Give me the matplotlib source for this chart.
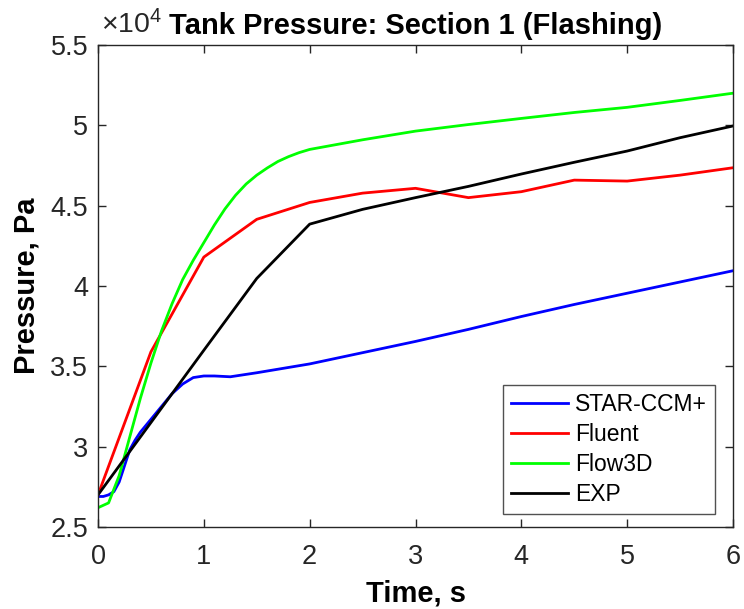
import numpy as np
import matplotlib
matplotlib.use("Agg")
import matplotlib.pyplot as plt

plt.rcParams['font.family'] = ['Liberation Sans', 'DejaVu Sans']
plt.rcParams['mathtext.fontset'] = 'custom'
plt.rcParams['mathtext.rm'] = 'Liberation Sans'
plt.rcParams['mathtext.it'] = 'Liberation Sans:italic'
plt.rcParams['mathtext.bf'] = 'Liberation Sans:bold'

# Tank pressure in units of 1e4 Pa
star_t = [0, 0.05, 0.1, 0.15, 0.2, 0.25, 0.3, 0.35, 0.4, 0.5, 0.6, 0.7, 0.8, 0.9,
          1.0, 1.1, 1.25, 1.5, 2.0, 2.5, 3.0, 3.5, 4.0, 4.5, 5.0, 5.5, 6.0]
star_p = [2.69, 2.69, 2.70, 2.72, 2.78, 2.88, 2.98, 3.04, 3.09, 3.17, 3.25, 3.33,
          3.39, 3.43, 3.44, 3.44, 3.435, 3.46, 3.515, 3.585, 3.655, 3.73, 3.81,
          3.885, 3.955, 4.025, 4.095]

fluent_t = [0, 0.5, 1.0, 1.5, 2.0, 2.5, 3.0, 3.5, 4.0, 4.5, 5.0, 5.5, 6.0]
fluent_p = [2.70, 3.59, 4.18, 4.415, 4.52, 4.578, 4.608, 4.55, 4.587, 4.659,
            4.653, 4.69, 4.736]

flow3d_t = [0, 0.1, 0.2, 0.3, 0.4, 0.5, 0.6, 0.7, 0.8, 0.9, 1.0, 1.1, 1.2, 1.3,
            1.4, 1.5, 1.6, 1.7, 1.8, 1.9, 2.0, 2.5, 3.0, 3.5, 4.0, 4.5, 5.0,
            5.5, 6.0]
flow3d_p = [2.62, 2.65, 2.82, 3.06, 3.30, 3.52, 3.72, 3.89, 4.04, 4.16, 4.27,
            4.38, 4.48, 4.565, 4.635, 4.69, 4.735, 4.775, 4.805, 4.83, 4.85,
            4.91, 4.964, 5.005, 5.043, 5.08, 5.112, 5.155, 5.20]

exp_t = [0, 0.5, 1.0, 1.5, 2.0, 2.5, 3.0, 3.5, 4.0, 4.5, 5.0, 5.5, 6.0]
exp_p = [2.70, 3.15, 3.60, 4.047, 4.385, 4.477, 4.55, 4.62, 4.697, 4.77, 4.84,
         4.923, 4.996]

x_ticks = [0, 1, 2, 3, 4, 5, 6]
y_ticks = [2.5, 3, 3.5, 4, 4.5, 5, 5.5]
y_tick_labels = ['2.5', '3', '3.5', '4', '4.5', '5', '5.5']

axis_color = '#262626'
W, H = 744, 609

fig = plt.figure(figsize=(W / 100, H / 100), dpi=100)
ax = fig.add_axes([98 / W, 1 - 527 / H, (733 - 98) / W, (527 - 45) / H])

lw = 2.0
ax.plot(star_t, star_p, color='#0000ff', lw=lw, label='STAR-CCM+')
ax.plot(fluent_t, fluent_p, color='#ff0000', lw=lw, label='Fluent')
ax.plot(flow3d_t, flow3d_p, color='#00ff00', lw=lw, label='Flow3D')
ax.plot(exp_t, exp_p, color='#000000', lw=lw, label='EXP')

ax.set_xlim(0, 6)
ax.set_ylim(2.5, 5.5)
ax.set_xticks(x_ticks)
ax.set_xticklabels([str(t) for t in x_ticks])
ax.set_yticks(y_ticks)
ax.set_yticklabels(y_tick_labels)

ax.tick_params(direction='in', length=6, width=1.0, colors=axis_color,
               labelsize=19.5, top=True, right=True)
ax.tick_params(axis='x', pad=12)
ax.tick_params(axis='y', pad=7)
for s in ax.spines.values():
    s.set_color(axis_color)
    s.set_linewidth(1.0)

ax.set_xlabel('Time, s', fontsize=21, fontweight='bold', labelpad=7)
ax.set_ylabel('Pressure, Pa', fontsize=21, fontweight='bold', labelpad=7)
ax.set_title('Tank Pressure: Section 1 (Flashing)', fontsize=21,
             fontweight='bold', pad=8)

fig.text(101 / W, 1 - 33 / H, r'$\times10^{4}$', fontsize=20.5, color=axis_color,
         ha='left', va='baseline')

leg = ax.legend(loc='lower right', bbox_to_anchor=(715 / W, 1 - 514 / H),
                bbox_transform=fig.transFigure, borderaxespad=0,
                fontsize=16.5, frameon=True, fancybox=False,
                edgecolor=axis_color, handlelength=2.5, borderpad=0.35,
                labelspacing=0.3, handletextpad=0.3)
leg.get_frame().set_linewidth(1.0)

fig.savefig('out.png', dpi=100, facecolor='white')
